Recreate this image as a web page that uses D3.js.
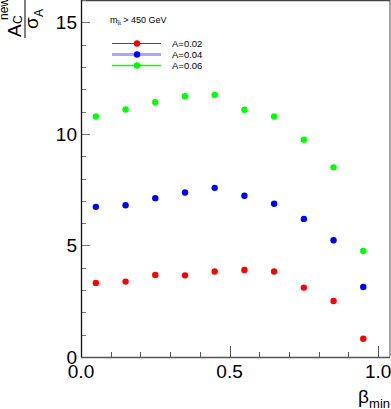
<!DOCTYPE html>
<html>
<head>
<meta charset="utf-8">
<script src="https://cdn.jsdelivr.net/npm/d3@7"></script>
<style>
  body { margin: 0; background: #fff; }
  svg { display: block; font-family: "Liberation Sans", Arial, sans-serif; }
</style>
</head>
<body>
<div id="chart"></div>
<script>
// beta_min bins
var betaMin = [0.05, 0.15, 0.25, 0.35, 0.45, 0.55, 0.65, 0.75, 0.85, 0.95];
// A_C^new / sigma_A for each asymmetry
var sigA002 = [3.32, 3.38, 3.68, 3.66, 3.83, 3.90, 3.83, 3.11, 2.51, 0.82];
var sigA004 = [6.73, 6.80, 7.12, 7.37, 7.58, 7.23, 6.87, 6.19, 5.23, 3.14];
var sigA006 = [10.78, 11.09, 11.42, 11.69, 11.75, 11.08, 10.78, 9.74, 8.50, 4.75];
var seriesNames = ["A=0.02", "A=0.04", "A=0.06"];
var seriesColors = ["#ff0000", "#0000ff", "#00ff00"];
var yTicks = [0, 5, 10, 15];
var xTicks = [0, 0.5, 1.0];

var W = 391, H = 409;
var pLeft = 81, pRight = 390, pTop = 0, pBottom = 357;

var svg = d3.select("#chart").append("svg")
    .attr("width", W).attr("height", H);

var x = d3.scaleLinear().domain([0, 1.04]).range([pLeft, pRight]);
var y = d3.scaleLinear().domain([0, 16]).range([pBottom, pTop]);

// frame
svg.append("line").attr("x1", pRight).attr("x2", pRight).attr("y1", pTop).attr("y2", pBottom)
    .attr("stroke", "#888").attr("stroke-width", 1.5);
svg.append("line").attr("x1", pLeft).attr("x2", pRight).attr("y1", pTop + 0.5).attr("y2", pTop + 0.5)
    .attr("stroke", "#444").attr("stroke-width", 1.5);

// minor ticks
var yMinor = d3.range(0, 16.01, 1);
svg.selectAll(".ymin").data(yMinor).enter().append("line")
    .attr("x1", pLeft).attr("x2", function(d) { return d % 5 == 0 ? pLeft + 9 : pLeft + 5; })
    .attr("y1", function(d) { return Math.round(y(d)) + 0.5; })
    .attr("y2", function(d) { return Math.round(y(d)) + 0.5; })
    .attr("stroke", "#777");
var xMinor = d3.range(0, 1.041, 0.1);
svg.selectAll(".xmin").data(xMinor).enter().append("line")
    .attr("y1", pBottom).attr("y2", function(d, i) { return i % 5 == 0 ? pBottom - 11 : pBottom - 5; })
    .attr("x1", function(d) { return Math.round(x(d)) + 0.5; })
    .attr("x2", function(d) { return Math.round(x(d)) + 0.5; })
    .attr("stroke", "#555");

// axis lines
svg.append("line").attr("x1", pLeft + 0.5).attr("x2", pLeft + 0.5).attr("y1", pTop).attr("y2", pBottom)
    .attr("stroke", "#111").attr("stroke-width", 1.3);
svg.append("line").attr("x1", pLeft).attr("x2", pRight).attr("y1", pBottom + 0.5).attr("y2", pBottom + 0.5)
    .attr("stroke", "#555").attr("stroke-width", 1.3);

// tick labels
svg.selectAll(".ylab").data(yTicks).enter().append("text")
    .attr("x", pLeft - 4).attr("y", function(d) { return y(d) + 7; })
    .attr("text-anchor", "end").attr("font-size", 19).attr("fill", "#000")
    .text(function(d) { return d; });
svg.selectAll(".xlab").data(xTicks).enter().append("text")
    .attr("x", function(d) { return x(d); }).attr("y", pBottom + 21)
    .attr("text-anchor", "middle").attr("font-size", 19).attr("fill", "#000")
    .text(function(d) { return d.toFixed(1); });

// x title
var xt = svg.append("text").attr("x", pRight).attr("y", 403)
    .attr("text-anchor", "end").attr("font-size", 19);
xt.append("tspan").text("\u03b2");
xt.append("tspan").attr("font-size", 13).attr("dy", 5).text("min");

// y title (fraction, rotated)
var yt = svg.append("g").attr("transform", "rotate(-90)");
yt.append("line").attr("x1", -38).attr("x2", 0).attr("y1", 25).attr("y2", 25)
    .attr("stroke", "#000").attr("stroke-width", 1);
yt.append("text").attr("x", -37).attr("y", 21).attr("font-size", 19).text("A");
yt.append("text").attr("x", -24).attr("y", 22).attr("font-size", 12).text("C");
yt.append("text").attr("x", -20).attr("y", 8).attr("font-size", 12).text("new");
yt.append("text").attr("x", -29).attr("y", 38).attr("font-size", 19).text("\u03c3");
yt.append("text").attr("x", -17).attr("y", 43).attr("font-size", 12).text("A");

// points
var allSeries = [sigA002, sigA004, sigA006];
allSeries.forEach(function(vals, k) {
  svg.selectAll(".pt" + k).data(vals).enter().append("circle")
      .attr("cx", function(d, i) { return x(betaMin[i]); })
      .attr("cy", function(d) { return y(d); })
      .attr("r", 3.2)
      .attr("fill", seriesColors[k]);
});

// legend
var note = svg.append("text").attr("x", 110).attr("y", 23).attr("font-size", 9);
note.append("tspan").text("m");
note.append("tspan").attr("font-size", 6).attr("dy", 2).text("t\u0305t");
note.append("tspan").attr("dy", -2).text(" > 450 GeV");

var legY = [43.5, 54.5, 65.5];
var legW = [1, 3, 1.3];
var legOp = [1, 0.35, 1];
seriesNames.forEach(function(name, k) {
  svg.append("line").attr("x1", 112).attr("x2", 161).attr("y1", legY[k]).attr("y2", legY[k])
      .attr("stroke", seriesColors[k]).attr("stroke-width", legW[k]).attr("stroke-opacity", legOp[k]);
  svg.append("circle").attr("cx", 137).attr("cy", legY[k]).attr("r", 3.2).attr("fill", seriesColors[k]);
  svg.append("text").attr("x", 172).attr("y", legY[k] + 3.5).attr("font-size", 9.5).text(name);
});
</script>
</body>
</html>
